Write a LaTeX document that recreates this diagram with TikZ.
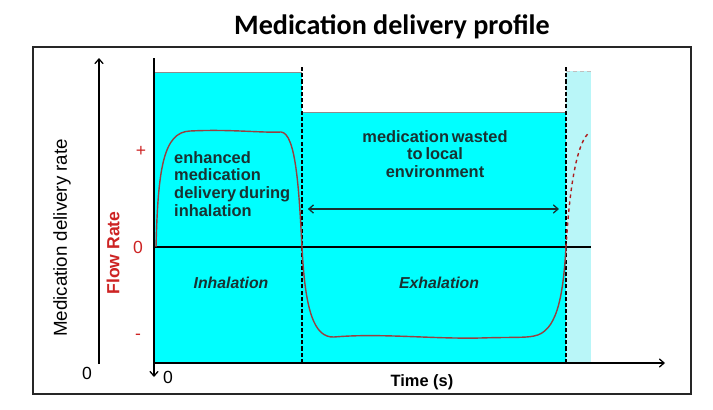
\documentclass[tikz,border=0pt]{standalone}
\usepackage{fontspec}
\setmainfont{Liberation Sans}
\newfontfamily\titlefont{Carlito}
\usetikzlibrary{arrows.meta,positioning}
\definecolor{boxcyan}{RGB}{0,255,255}
\definecolor{palecyan}{RGB}{185,246,248}
\definecolor{flowred}{RGB}{205,35,35}
\definecolor{curvered}{RGB}{150,65,65}
\definecolor{darkteal}{RGB}{25,50,50}

\begin{document}
\begin{tikzpicture}[x=0.03cm,y=-0.03cm,
  phase/.style={font=\bfseries\itshape\fontsize{13.5}{15}\selectfont,text=darkteal},
  note/.style={font=\bfseries\fontsize{14}{15.2}\selectfont,text=darkteal,inner sep=0pt,
    execute at begin node={\spaceskip=0.18em\relax}},
  tick/.style={text=flowred,font=\fontsize{15}{17}\selectfont},
  origin/.style={font=\fontsize{15}{17}\selectfont},
  axis/.style={line width=1.1pt,-{Straight Barb[length=4pt,width=7pt]}},
  boundary/.style={line width=1.7pt,dash pattern=on 3.5pt off 1.8pt},
  flow/.style={curvered,line width=1.2pt}
]
  \useasboundingbox (0,0) rectangle (713,409);
  \node[font=\titlefont\bfseries\fontsize{24}{28}\selectfont] (title) at (392,27) {Medication delivery profile};
  \draw[line width=1.5pt,black!85] (33,47) rectangle (691,394);

  % inhalation, exhalation and next breath
  \fill[boxcyan] (154,72) rectangle (302,363);
  \fill[boxcyan] (302,112) rectangle (566,363);
  \fill[palecyan] (566,71) rectangle (591,363);
  \draw[black!45,thin] (154,72) -- (302,72) (302,112) -- (566,112);
  \draw[black!25,thin,dashed] (566,71) -- (591,71);

  \coordinate (origin) at (154,363);
  \coordinate (rate top) at (99,58);
  \coordinate (rate foot) at (99,364);
  \coordinate (flow top) at (154,58);
  \coordinate (flow foot) at (154,377);
  \coordinate (time end) at (665,363);
  \coordinate (zero) at (154,247);
  \coordinate (zero end) at (591,247);
  \coordinate (inhale end) at (302,67);
  \coordinate (inhale foot) at (302,363);
  \coordinate (exhale end) at (566,66);
  \coordinate (exhale foot) at (566,363);

  \draw[axis] (rate foot) -- (rate top);
  \draw[axis,{Straight Barb[length=4pt,width=7pt]}-] (flow foot) -- (flow top);
  \draw[axis] (origin) -- (time end);
  \draw[line width=1.1pt] (zero) -- (zero end);
  \draw[boundary] (inhale foot) -- (inhale end);
  \draw[boundary] (exhale foot) -- (exhale end);

  % flow rate curve
  \draw[flow] (156,247) .. controls (158,170) and (163,132) .. (190,131)
    .. controls (230,129) and (262,133) .. (281,132)
    .. controls (296,133) and (299,190) .. (302,247)
    .. controls (305,310) and (314,338) .. (334,337)
    .. controls (380,333) and (430,339) .. (480,338)
    .. controls (510,337) and (525,338) .. (534,336)
    .. controls (556,332) and (563,300) .. (566,247);
  \draw[flowred!85!black,line width=1.2pt,dashed] (566,247) .. controls (570,180) and (578,140) .. (590,132);

  \coordinate (waste left) at (302,209);
  \coordinate (waste right) at (566,209);
  \draw[darkteal,line width=1.1pt,{Straight Barb[length=4pt,width=7pt]}-{Straight Barb[length=4pt,width=7pt]},shorten <=5pt,shorten >=6pt] (waste left) -- (waste right);

  \node[note,align=center] (wasted) at (435,154) {medication wasted\\to local\\environment};
  \node[note,align=left,anchor=west] (enhanced) at (174,184) {enhanced\\medication\\delivery during\\inhalation};
  \node[phase] (inhalation) at (231,283) {Inhalation};
  \node[phase] (exhalation) at (439,283) {Exhalation};

  \node[rotate=90,font=\fontsize{16}{18}\selectfont] (rate label) at (62,238) {Medication delivery rate};
  \node[rotate=90,text=flowred,font=\bfseries\fontsize{15}{17}\selectfont] (flow label) at (113,253) {Flow Rate};
  \node[tick] (plus) at (141,151) {+};
  \node[tick] (flow zero) at (138,247) {0};
  \node[tick] (minus) at (138,337) {-};
  \node[origin] (rate zero) at (87,373) {0};
  \node[origin] (time zero) at (168,377) {0};
  \node[font=\bfseries\fontsize{14}{16}\selectfont] (time label) at (422,382) {Time (s)};
\end{tikzpicture}
\end{document}
